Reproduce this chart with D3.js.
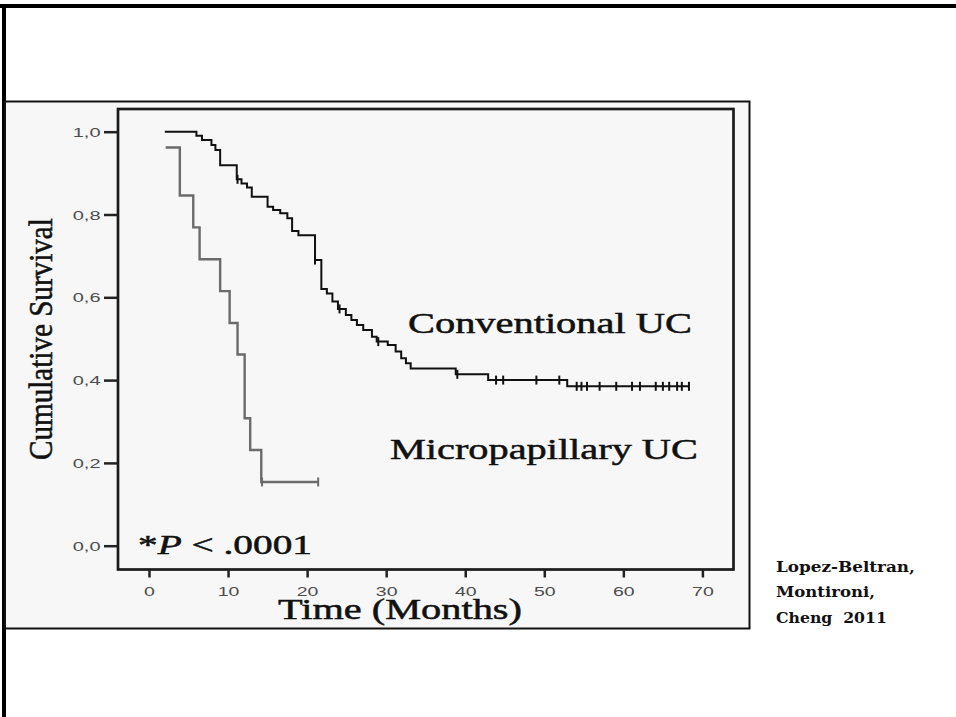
<html>
<head>
<meta charset="utf-8">
<style>
  body { margin: 0; background: #fff; }
  svg { display: block; }
</style>
</head>
<body>
<svg width="956" height="717" style="background: white"></svg>

<script src="https://cdn.jsdelivr.net/npm/d3@7/dist/d3.min.js"></script>
<script type="text/javascript">
// Kaplan-Meier curves (time in months, cumulative survival)
const convTime = [2.0, 6.0, 6.7, 7.9, 8.4, 9.0, 11.1, 11.7, 12.4, 13.0, 15.0, 15.7, 16.6, 17.5, 18.1, 18.9,
  21.0, 21.8, 22.5, 23.2, 23.9, 24.9, 25.6, 26.3, 27.1, 28.2, 28.8, 30.2, 31.2, 31.9, 32.5, 33.1,
  38.8, 42.9, 52.9, 68.4]
const convSurv = [1.000, 0.990, 0.980, 0.968, 0.956, 0.919, 0.885, 0.875, 0.865, 0.843, 0.819, 0.811, 0.803, 0.791, 0.760, 0.750,
  0.690, 0.620, 0.609, 0.590, 0.572, 0.557, 0.545, 0.533, 0.521, 0.505, 0.493, 0.485, 0.469, 0.453, 0.441, 0.428,
  0.414, 0.400, 0.385, 0.385]
const convCensor = [11.2, 21.0, 24.1, 29.0, 39.0, 43.9, 44.8, 49.0, 51.9, 54.1, 54.7, 55.4, 57.0, 59.1,
  61.1, 62.1, 64.1, 65.0, 65.8, 66.8, 67.4, 68.3]

const microTime = [2.1, 3.9, 5.6, 6.4, 9.0, 10.2, 11.2, 12.1, 12.8, 14.2, 21.4]
const microSurv = [0.962, 0.846, 0.769, 0.692, 0.615, 0.538, 0.462, 0.308, 0.231, 0.154, 0.154]
const microCensor = [14.3, 21.4]

const xTicks = [0, 10, 20, 30, 40, 50, 60, 70]
const yTicks = [0, 0.2, 0.4, 0.6, 0.8, 1.0]
const yTickLabels = ["0,0", "0,2", "0,4", "0,6", "0,8", "1,0"]

const svg = d3.select("svg")

// slide frame
svg.append("rect").attr("x", 0).attr("y", 4).attr("width", 956).attr("height", 4).attr("fill", "#000")
svg.append("rect").attr("x", 2).attr("y", 4).attr("width", 4).attr("height", 713).attr("fill", "#000")

// pasted image box
svg.append("rect").attr("x", 5).attr("y", 101.5).attr("width", 744.5).attr("height", 527)
  .attr("fill", "#f7f7f7").attr("stroke", "#111").attr("stroke-width", 2)

const x = d3.scaleLinear().domain([0, 70]).range([149, 702.4])
const y = d3.scaleLinear().domain([0, 1]).range([545.7, 131.7])

// plot frame
svg.append("rect").attr("x", 118).attr("y", 109).attr("width", 615.5).attr("height", 460.5)
  .attr("fill", "none").attr("stroke", "#1a1a1a").attr("stroke-width", 2.7)

const tickFont = "'Liberation Sans', Arial, sans-serif"

const yAxis = svg.append("g").attr("transform", "translate(118,0)")
  .call(d3.axisLeft(y).tickValues(yTicks).tickSize(14).tickFormat((d, i) => yTickLabels[i]))
yAxis.select(".domain").remove()
yAxis.selectAll(".tick line").attr("stroke", "#222").attr("stroke-width", 2.5)
yAxis.selectAll(".tick text").attr("x", 0).attr("dy", "0.36em")
  .attr("transform", "translate(-17.5,0) scale(1.6,1)")
  .attr("font-family", tickFont).attr("font-size", 12.5).attr("fill", "#4d4d4d")

const xAxis = svg.append("g").attr("transform", "translate(0,569.5)")
  .call(d3.axisBottom(x).tickValues(xTicks).tickSize(8))
xAxis.select(".domain").remove()
xAxis.selectAll(".tick line").attr("stroke", "#222").attr("stroke-width", 2.5)
xAxis.selectAll(".tick text").attr("y", 0).attr("dy", 0)
  .attr("transform", "translate(0,26) scale(1.56,1)")
  .attr("font-family", tickFont).attr("font-size", 12.5).attr("fill", "#4d4d4d")

// step curves
const line = d3.line().x(d => x(d[0])).y(d => y(d[1])).curve(d3.curveStepAfter)

function stepValue(times, surv, t) {
  const i = d3.bisectRight(times, t) - 1
  return surv[Math.max(0, i)]
}

function drawCurve(times, surv, censor, color, width) {
  svg.append("path").attr("d", line(d3.zip(times, surv)))
    .attr("fill", "none").attr("stroke", color).attr("stroke-width", width)
  svg.append("g").selectAll("line").data(censor).join("line")
    .attr("x1", d => x(d)).attr("x2", d => x(d))
    .attr("y1", d => y(stepValue(times, surv, d)) - 4.5)
    .attr("y2", d => y(stepValue(times, surv, d)) + 4.5)
    .attr("stroke", color).attr("stroke-width", 2)
}

drawCurve(microTime, microSurv, microCensor, "#6b6b6b", 2.4)
drawCurve(convTime, convSurv, convCensor, "#111", 2)

// text helpers: stretch text horizontally to the width seen in the picture
function fitText(t, px, py, width, sy, angle) {
  const w = t.node().getComputedTextLength()
  t.attr("transform", `translate(${px},${py}) rotate(${angle || 0}) scale(${width / w},${sy || 1})`)
}

const serif = "'Liberation Serif', 'Times New Roman', serif"

function serifText(str, size) {
  return svg.append("text").attr("font-family", serif).attr("font-size", size)
    .attr("fill", "#111").attr("stroke", "#111").attr("stroke-width", 0.5).text(str)
}

fitText(serifText("Conventional UC", 29), 408, 333, 284)
fitText(serifText("Micropapillary UC", 29), 390, 458.5, 308)
fitText(serifText("Time (Months)", 29), 278, 619, 244)
fitText(serifText("Cumulative Survival", 30), 51.5, 460, 242, 1.1, -90)

const pText = serifText("", 27)
pText.append("tspan").text("*")
pText.append("tspan").attr("font-style", "italic").text("P")
pText.append("tspan").text(" < .0001")
fitText(pText, 138, 554, 174)

// citation
const citeLines = ["Lopez-Beltran,", "Montironi,", "Cheng  2011"]
const citeBase = [571.7, 596.7, 622.7]
const citeWidth = [139, 99, 111]
citeLines.forEach((s, i) => {
  const t = svg.append("text").attr("font-family", "'DejaVu Serif', serif").attr("font-weight", "bold")
    .attr("font-size", 15).attr("fill", "#111").attr("xml:space", "preserve").style("white-space", "pre").text(s)
  fitText(t, 776, citeBase[i], citeWidth[i])
})
</script>
</body>
</html>
